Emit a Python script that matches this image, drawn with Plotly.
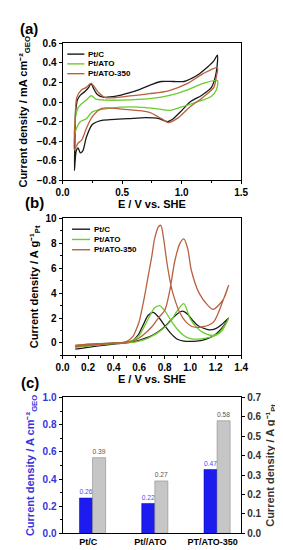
import plotly.graph_objects as go

W, H = 283, 550


def px(x):
    return x / W


def py(y):
    return 1 - y / H


# ---------------- Panel (a): CV in N2 (mA cm-2 GEO) ----------------
a_ptc_E = [0.100, 0.104, 0.110, 0.125, 0.150, 0.190, 0.220, 0.240, 0.260, 0.290, 0.340, 0.450,
           0.550, 0.650, 0.750, 0.830, 0.930, 1.020, 1.080, 1.150, 1.220, 1.270, 1.300,
           1.290, 1.250, 1.170, 1.070, 0.990, 0.930, 0.880, 0.810, 0.700, 0.550, 0.400,
           0.320, 0.250, 0.200, 0.170, 0.150, 0.130, 0.115, 0.100]
a_ptc_J = [-0.70, -0.40, -0.10, 0.02, 0.07, 0.11, 0.15, 0.19, 0.14, 0.08, 0.05, 0.06,
           0.09, 0.13, 0.18, 0.21, 0.21, 0.21, 0.24, 0.29, 0.36, 0.42, 0.48,
           0.30, 0.15, 0.07, 0.00, -0.10, -0.17, -0.20, -0.17, -0.16, -0.17, -0.18,
           -0.19, -0.23, -0.36, -0.50, -0.52, -0.47, -0.50, -0.70]

a_ato_E = [0.100, 0.110, 0.130, 0.150, 0.200, 0.240, 0.280, 0.350, 0.500, 0.730, 0.890,
           1.050, 1.180, 1.300,
           1.290, 1.250, 1.200, 1.100, 1.000, 0.900, 0.800, 0.600, 0.390, 0.250, 0.200,
           0.150, 0.120, 0.100]
a_ato_J = [-0.33, -0.15, -0.06, -0.03, 0.02, 0.066, 0.03, 0.02, 0.02, 0.035, 0.066,
           0.125, 0.19, 0.22,
           0.12, 0.06, 0.03, -0.01, -0.05, -0.085, -0.07, -0.05, -0.065, -0.10, -0.17,
           -0.20, -0.26, -0.33]

a_350_E = [0.100, 0.105, 0.120, 0.160, 0.200, 0.240, 0.300, 0.360, 0.520, 0.730, 0.890,
           1.050, 1.180, 1.300,
           1.290, 1.270, 1.180, 1.070, 0.960, 0.890, 0.830, 0.730, 0.520, 0.330, 0.250,
           0.200, 0.160, 0.130, 0.100]
a_350_J = [-0.49, -0.20, 0.046, 0.125, 0.15, 0.19, 0.10, 0.045, 0.056, 0.085, 0.115,
           0.19, 0.29, 0.35,
           0.25, 0.15, 0.05, -0.05, -0.17, -0.21, -0.17, -0.105, -0.075, -0.065, -0.15,
           -0.27, -0.39, -0.42, -0.49]

# ---------------- Panel (b): methanol oxidation (A g-1 Pt) ----------------
b_ptc_E = [0.10, 0.20, 0.30, 0.40, 0.50, 0.55, 0.60, 0.65, 0.70, 0.75, 0.80, 0.85, 0.90, 0.94,
           0.98, 1.02, 1.06, 1.10, 1.15, 1.20, 1.25, 1.30,
           1.25, 1.20, 1.15, 1.10, 1.05, 1.00, 0.95, 0.90, 0.85, 0.80, 0.75, 0.71, 0.67,
           0.63, 0.59, 0.55, 0.50, 0.40, 0.30, 0.20, 0.10]
b_ptc_J = [-0.50, -0.35, -0.22, -0.10, 0.00, 0.08, 0.20, 0.38, 0.60, 0.90, 1.30, 1.85, 2.35, 2.55,
           2.30, 1.80, 1.40, 1.20, 1.05, 1.15, 1.50, 2.00,
           1.20, 0.70, 0.40, 0.22, 0.15, 0.12, 0.15, 0.30, 0.75, 1.40, 2.10, 2.45, 2.20,
           1.40, 0.60, 0.20, 0.05, -0.02, -0.08, -0.15, -0.30]

b_ato_E = [0.10, 0.20, 0.30, 0.40, 0.50, 0.55, 0.60, 0.65, 0.70, 0.75, 0.80, 0.85, 0.90, 0.95,
           1.00, 1.05, 1.10, 1.17, 1.22, 1.27, 1.30,
           1.25, 1.20, 1.15, 1.10, 1.05, 1.00, 0.95, 0.90, 0.85, 0.80, 0.76, 0.72, 0.68,
           0.64, 0.60, 0.55, 0.50, 0.40, 0.30, 0.20, 0.10]
b_ato_J = [-0.35, -0.25, -0.15, -0.05, 0.00, 0.05, 0.15, 0.30, 0.55, 0.85, 1.25, 1.80, 2.60, 3.15,
           1.95, 1.25, 0.85, 0.60, 0.75, 1.40, 1.95,
           1.00, 0.60, 0.45, 0.35, 0.30, 0.35, 0.60, 1.10, 1.80, 2.60, 3.00, 2.80, 2.10,
           1.30, 0.60, 0.20, 0.05, -0.02, -0.05, -0.10, -0.20]

b_350_E = [0.10, 0.20, 0.30, 0.40, 0.50, 0.55, 0.60, 0.65, 0.70, 0.75, 0.80, 0.84, 0.88, 0.92,
           0.95, 0.98, 1.01, 1.07, 1.14, 1.18, 1.26, 1.30,
           1.25, 1.22, 1.18, 1.10, 1.02, 0.97, 0.92, 0.87, 0.85, 0.82, 0.79, 0.77, 0.75,
           0.72, 0.70, 0.67, 0.64, 0.62, 0.60, 0.57, 0.55, 0.50, 0.40, 0.30, 0.20, 0.10]
b_350_J = [-0.30, -0.20, -0.12, -0.03, 0.05, 0.15, 0.40, 0.80, 1.30, 2.00, 2.60, 4.20, 6.60, 8.00,
           8.35, 7.60, 5.80, 4.00, 3.00, 2.70, 3.50, 4.60,
           3.20, 2.40, 1.65, 1.30, 1.30, 1.65, 2.40, 3.80, 4.60, 6.30, 8.50, 9.45, 9.30,
           8.30, 7.00, 5.30, 3.60, 2.60, 1.70, 0.90, 0.50, 0.10, 0.00, -0.05, -0.10, -0.20]

# ---------------- Panel (c): bar comparison ----------------
c_categories = ["Pt/C", "Pt//ATO", "PT/ATO-350"]
c_geo = [0.26, 0.22, 0.47]      # A cm-2 GEO (left axis)
c_mass = [0.39, 0.27, 0.58]     # A g-1 Pt (right axis)

names = ["Pt/C", "Pt/ATO", "Pt/ATO-350"]
colors = ["#1a1a1a", "#6acb2c", "#b9603e"]

FONT = "Liberation Sans, Arial, sans-serif"
BLUE = "#3434dc"

fig = go.Figure()

for (E, J), nm, col in zip([(a_ptc_E, a_ptc_J), (a_ato_E, a_ato_J), (a_350_E, a_350_J)], names, colors):
    fig.add_trace(go.Scatter(x=E, y=J, mode="lines", name=nm, showlegend=False,
                             line=dict(color=col, width=1.3, shape="spline", smoothing=0.8),
                             xaxis="x", yaxis="y"))

for (E, J), nm, col in zip([(b_ptc_E, b_ptc_J), (b_ato_E, b_ato_J), (b_350_E, b_350_J)], names, colors):
    fig.add_trace(go.Scatter(x=E, y=J, mode="lines", name=nm, showlegend=False,
                             line=dict(color=col, width=1.3, shape="spline", smoothing=0.8),
                             xaxis="x2", yaxis="y2"))

fig.add_trace(go.Bar(x=c_categories, y=c_geo, width=0.21, offset=-0.14,
                     marker=dict(color="#1c1cf0", line=dict(color="#0000a0", width=0.5)),
                     texttemplate="%{y:.2f}", textposition="outside", cliponaxis=False,
                     textfont=dict(size=7, color="#4a4aff", family=FONT),
                     showlegend=False, xaxis="x3", yaxis="y3"))
fig.add_trace(go.Bar(x=c_categories, y=c_mass, width=0.21, offset=0.07,
                     marker=dict(color="#c6c6c6", line=dict(color="#8c8c8c", width=0.6)),
                     texttemplate="%{y:.2f}", textposition="outside", cliponaxis=False,
                     textfont=dict(size=7, color="#555555", family=FONT),
                     showlegend=False, xaxis="x3", yaxis="y4"))

tickfont = dict(family=FONT, size=10, color="black", weight="bold")
titlefont = dict(family=FONT, size=11, color="black", weight="bold")
XDOM = [px(50), px(238)]

common_x = dict(showline=True, linecolor="black", linewidth=1, mirror=True, ticks="outside",
                ticklen=3, tickcolor="black", tickfont=tickfont, showgrid=False, zeroline=False)
common_y = dict(showline=True, linecolor="black", linewidth=1, mirror=True, ticks="outside",
                ticklen=3, tickcolor="black", tickfont=tickfont, showgrid=False, zeroline=False)

fig.update_layout(
    width=W, height=H, margin=dict(l=0, r=0, t=0, b=0),
    paper_bgcolor="white", plot_bgcolor="white",
    font=dict(family=FONT, color="black"),
    xaxis=dict(domain=XDOM, anchor="y", range=[0, 1.5], tickvals=[0, 0.5, 1.0, 1.5],
               ticktext=["0.0", "0.5", "1.0", "1.5"],
               minor=dict(dtick=0.25, ticks="outside", ticklen=2, tickcolor="black"),
               title=dict(text="E / V vs. SHE", font=dict(family=FONT, size=11, weight="bold"), standoff=2),
               **common_x),
    yaxis=dict(domain=[py(170), py(30)], anchor="x", range=[-0.8, 0.6], dtick=0.2, tickformat=".1f",
               title=dict(text="Current density / mA cm⁻²<sub>GEO</sub>", font=titlefont, standoff=6),
               **common_y),
    xaxis2=dict(domain=XDOM, anchor="y2", range=[0, 1.4], dtick=0.2, tickformat=".1f",
                minor=dict(dtick=0.1, ticks="outside", ticklen=2, tickcolor="black"),
                title=dict(text="E / V vs. SHE", font=dict(family=FONT, size=11, weight="bold"), standoff=2),
                **common_x),
    yaxis2=dict(domain=[py(349), py(209)], anchor="x2", range=[-1, 10], tickvals=[0, 2, 4, 6, 8, 10],
                minor=dict(dtick=1, ticks="outside", ticklen=2, tickcolor="black"),
                title=dict(text="Current density / A g⁻¹<sub>Pt</sub>", font=titlefont, standoff=4),
                **common_y),
    xaxis3=dict(domain=XDOM, anchor="y3", type="category", range=[-0.412, 2.458],
                showline=True, linecolor="black", linewidth=1, mirror=True, ticks="",
                tickfont=dict(family=FONT, size=9, color="black", weight="bold"), showgrid=False),
    yaxis3=dict(domain=[py(531), py(392)], anchor="x3", range=[0, 1.0], dtick=0.2, tickformat=".1f",
                showline=True, linecolor="black", linewidth=1, ticks="outside", ticklen=3,
                tickcolor="black", showgrid=False, zeroline=False,
                minor=dict(dtick=0.1, ticks="outside", ticklen=2, tickcolor="black"),
                tickfont=dict(family=FONT, size=10, color=BLUE, weight="bold"),
                title=dict(text="Current density / A cm⁻²<sub>GEO</sub>",
                           font=dict(family=FONT, size=11, color=BLUE, weight="bold"), standoff=5)),
    yaxis4=dict(overlaying="y3", anchor="x3", side="right", range=[0, 0.7], dtick=0.1, tickformat=".1f",
                showline=True, linecolor="black", linewidth=1, ticks="outside", ticklen=3,
                tickcolor="black", showgrid=False, zeroline=False,
                tickfont=dict(family=FONT, size=10, color="#333333", weight="bold"),
                title=dict(text="Current density / A g⁻¹<sub>Pt</sub>",
                           font=dict(family=FONT, size=11, color="#333333", weight="bold"), standoff=5)),
)

# Panel labels
for txt, x, y in [("(a)", 15, 15), ("(b)", 21, 193), ("(c)", 16, 377)]:
    fig.add_annotation(text=txt, x=px(x), y=py(y), xref="paper", yref="paper", showarrow=False,
                       font=dict(family=FONT, size=15, color="black", weight="bold"),
                       xanchor="center", yanchor="middle")

# Legends (drawn as keys in paper coordinates)
legend_specs = [(55, 73, 75, [41, 51, 61]), (60, 79, 81, [220, 230.5, 241])]
for x0, x1, xt, rows in legend_specs:
    for nm, col, yy in zip(names, colors, rows):
        fig.add_shape(type="line", xref="paper", yref="paper", x0=px(x0), x1=px(x1),
                      y0=py(yy), y1=py(yy), line=dict(color=col, width=1.4))
        fig.add_annotation(text=nm, x=px(xt), y=py(yy), xref="paper", yref="paper", showarrow=False,
                           xanchor="left", yanchor="middle",
                           font=dict(family=FONT, size=8, color="black", weight="bold"))

fig.write_html("out.html")
